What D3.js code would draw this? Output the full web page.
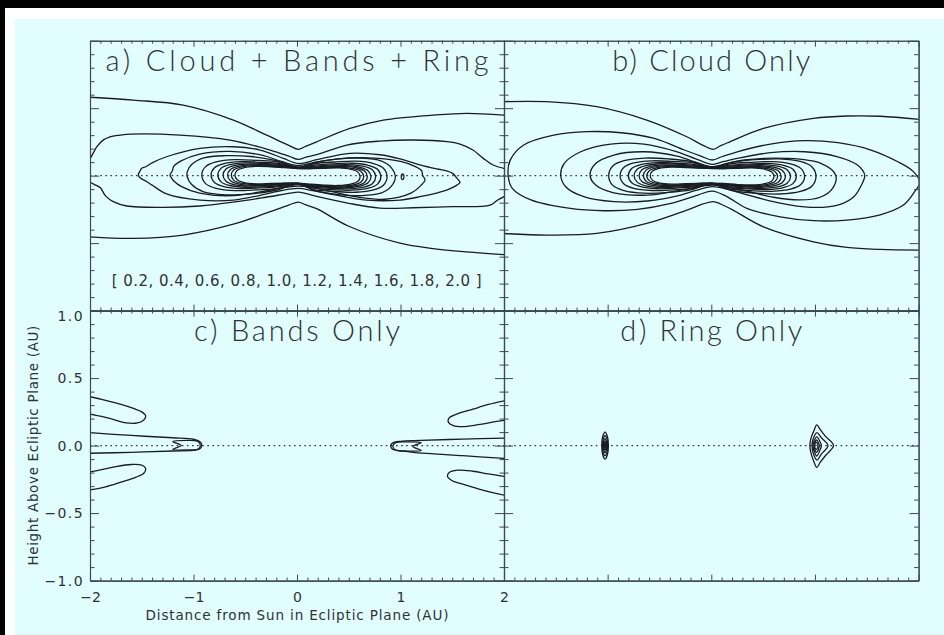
<!DOCTYPE html>
<html>
<head>
<meta charset="utf-8">
<script src="https://cdn.jsdelivr.net/npm/d3@7"></script>
<style>
  body { margin: 0; background: #fff; }
  svg { display: block; }
</style>
</head>
<body>
<svg id="chart" width="944" height="635"></svg>
<script>
// ---------------------------------------------------------------
// Zodiacal dust density contours in the x–z meridional plane.
// Every contour is a list of [distance (AU), height (AU)] points.
// ---------------------------------------------------------------

const contourLevels = [0.2, 0.4, 0.6, 0.8, 1.0, 1.2, 1.4, 1.6, 1.8, 2.0];

const xTickValues = [-2, -1, 0, 1, 2];
const xTickLabels = ["\u22122", "\u22121", "0", "1", "2"];
const yTickValues = [-1, -0.5, 0, 0.5, 1];
const yTickLabels = ["\u22121.0", "\u22120.5", "0.0", "0.5", "1.0"];

const panelTitles = ["a) Cloud + Bands + Ring", "b) Cloud Only", "c) Bands Only", "d) Ring Only"];

// ---- a) cloud + bands + ring : open contours (leave the frame)
const allOuterTop = [[-2.02,0.582],[-1.58,0.56],[-1.10,0.523],[-0.615,0.412],[-0.293,0.30],[-0.08,0.225],[0.013,0.195],[0.08,0.216],[0.19,0.251],[0.512,0.35],[0.834,0.412],[1.317,0.449],[1.64,0.462],[2.02,0.448]];
const allOuterBottom = [[-2.02,-0.453],[-1.58,-0.465],[-1.10,-0.44],[-0.615,-0.36],[-0.293,-0.276],[-0.08,-0.218],[0.013,-0.196],[0.08,-0.215],[0.19,-0.245],[0.5,-0.375],[0.995,-0.5],[1.317,-0.54],[1.64,-0.565],[2.02,-0.587]];
const allSecondTop = [[-2.02,0.095],[-1.96,0.18],[-1.935,0.214],[-1.87,0.265],[-1.807,0.288],[-1.71,0.30],[-1.61,0.308],[-1.13,0.301],[-0.647,0.264],[-0.26,0.19],[-0.08,0.145],[0.013,0.12],[0.08,0.135],[0.19,0.155],[0.48,0.227],[0.80,0.256],[1.12,0.264],[1.45,0.252],[1.575,0.234],[1.70,0.19],[1.797,0.13],[1.894,0.079],[2.02,0.05]];
const allSecondBottom = [[-2.02,-0.04],[-1.96,-0.065],[-1.90,-0.09],[-1.85,-0.15],[-1.775,-0.193],[-1.645,-0.225],[-1.3,-0.235],[-0.94,-0.225],[-0.6,-0.195],[-0.3,-0.16],[-0.08,-0.132],[0.013,-0.122],[0.08,-0.132],[0.2,-0.155],[0.5,-0.205],[0.8,-0.24],[1.12,-0.238],[1.5,-0.23],[1.865,-0.218],[1.94,-0.18],[2.02,-0.15]];

// ---- a) closed contours
const all3 = [[-1.533,0.004],[-1.52,0.03],[-1.50,0.055],[-1.46,0.066],[-1.40,0.095],[-1.26,0.14],[-0.937,0.202],[-0.615,0.214],[-0.357,0.19],[-0.132,0.128],[0.013,0.09],[0.19,0.118],[0.512,0.165],[0.80,0.155],[0.995,0.125],[1.188,0.08],[1.35,0.05],[1.446,0.035],[1.507,0.015],[1.546,-0.02],[1.575,-0.05],[1.545,-0.07],[1.446,-0.107],[1.188,-0.156],[0.995,-0.181],[0.673,-0.181],[0.351,-0.14],[0.15,-0.11],[0.013,-0.095],[-0.15,-0.11],[-0.293,-0.135],[-0.615,-0.181],[-0.937,-0.181],[-1.26,-0.135],[-1.40,-0.07],[-1.45,-0.045],[-1.51,-0.02]];
const all4 = [[-1.227,0.004],[-1.205,0.035],[-1.19,0.07],[-1.12,0.11],[-0.94,0.16],[-0.65,0.18],[-0.33,0.15],[-0.15,0.105],[0.013,0.074],[0.15,0.095],[0.4,0.125],[0.75,0.13],[1.0,0.105],[1.15,0.065],[1.205,0.035],[1.215,0.0],[1.237,-0.03],[1.2,-0.07],[1.1,-0.13],[0.85,-0.175],[0.6,-0.16],[0.317,-0.115],[0.15,-0.088],[0.013,-0.077],[-0.15,-0.09],[-0.295,-0.112],[-0.617,-0.148],[-0.94,-0.13],[-1.12,-0.08],[-1.19,-0.04],[-1.21,-0.02]];
const all5 = [[-1.06,0.03],[-1.018,0.082],[-0.901,0.131],[-0.689,0.148],[-0.445,0.142],[-0.212,0.113],[0.013,0.064],[0.19,0.1],[0.4,0.125],[0.62,0.13],[0.81,0.11],[0.91,0.06],[0.95,-0.01],[0.91,-0.08],[0.81,-0.13],[0.62,-0.148],[0.4,-0.14],[0.19,-0.115],[0.013,-0.066],[-0.212,-0.11],[-0.445,-0.135],[-0.689,-0.142],[-0.901,-0.12],[-1.018,-0.065],[-1.06,-0.01]];
const all6 = [[-0.92,0.004],[-0.883,0.067],[-0.782,0.102],[-0.598,0.119],[-0.386,0.113],[-0.184,0.102],[0,0.059],[0.174,0.09],[0.365,0.101],[0.566,0.107],[0.74,0.09],[0.835,0.055],[0.87,-0.008],[0.835,-0.071],[0.74,-0.106],[0.566,-0.123],[0.365,-0.117],[0.174,-0.106],[0,-0.061],[-0.184,-0.094],[-0.386,-0.105],[-0.598,-0.111],[-0.782,-0.094],[-0.883,-0.059]];
const all7 = [[-0.83,0.004],[-0.797,0.059],[-0.706,0.089],[-0.54,0.104],[-0.349,0.099],[-0.166,0.089],[0,0.058],[0.162,0.077],[0.34,0.087],[0.527,0.092],[0.689,0.077],[0.778,0.047],[0.81,-0.008],[0.778,-0.063],[0.689,-0.093],[0.527,-0.108],[0.34,-0.103],[0.162,-0.093],[0,-0.06],[-0.166,-0.081],[-0.349,-0.091],[-0.54,-0.096],[-0.706,-0.081],[-0.797,-0.051]];
const all8 = [[-0.765,0.004],[-0.734,0.054],[-0.65,0.081],[-0.497,0.094],[-0.321,0.09],[-0.153,0.081],[0,0.057],[0.152,0.069],[0.319,0.078],[0.494,0.082],[0.646,0.069],[0.73,0.042],[0.76,-0.008],[0.73,-0.058],[0.646,-0.085],[0.494,-0.098],[0.319,-0.094],[0.152,-0.085],[0,-0.059],[-0.153,-0.073],[-0.321,-0.082],[-0.497,-0.086],[-0.65,-0.073],[-0.734,-0.046]];
const all9 = [[-0.715,0.004],[-0.686,0.049],[-0.608,0.074],[-0.465,0.086],[-0.3,0.082],[-0.143,0.074],[0,0.056],[0.143,0.062],[0.3,0.07],[0.465,0.074],[0.608,0.062],[0.686,0.037],[0.715,-0.008],[0.686,-0.053],[0.608,-0.078],[0.465,-0.09],[0.3,-0.086],[0.143,-0.078],[0,-0.058],[-0.143,-0.066],[-0.3,-0.074],[-0.465,-0.078],[-0.608,-0.066],[-0.686,-0.041]];
const all10 = [[-0.67,0.004],[-0.643,0.046],[-0.57,0.069],[-0.436,0.08],[-0.281,0.076],[-0.134,0.069],[0,0.055],[0.136,0.057],[0.286,0.064],[0.442,0.068],[0.578,0.057],[0.653,0.034],[0.68,-0.008],[0.653,-0.05],[0.578,-0.073],[0.442,-0.084],[0.286,-0.08],[0.136,-0.073],[0,-0.057],[-0.134,-0.061],[-0.281,-0.068],[-0.436,-0.072],[-0.57,-0.061],[-0.643,-0.038]];
const all11 = [[-0.635,0.004],[-0.61,0.043],[-0.54,0.064],[-0.413,0.074],[-0.267,0.071],[-0.127,0.064],[0,0.054],[0.129,0.053],[0.271,0.059],[0.419,0.062],[0.548,0.052],[0.619,0.031],[0.645,-0.008],[0.619,-0.047],[0.548,-0.068],[0.419,-0.078],[0.271,-0.075],[0.129,-0.068],[0,-0.056],[-0.127,-0.057],[-0.267,-0.063],[-0.413,-0.066],[-0.54,-0.056],[-0.61,-0.035]];
const all12 = [[-0.60,0.004],[-0.576,0.04],[-0.51,0.059],[-0.39,0.069],[-0.252,0.066],[-0.12,0.059],[0,0.053],[0.122,0.053],[0.256,0.054],[0.397,0.057],[0.519,0.047],[0.586,0.028],[0.61,-0.008],[0.586,-0.044],[0.519,-0.063],[0.397,-0.073],[0.256,-0.07],[0.122,-0.063],[0,-0.055],[-0.12,-0.056],[-0.252,-0.058],[-0.39,-0.061],[-0.51,-0.051],[-0.576,-0.032]];
const allRingBlob = [[1.007,-0.008],[1.011,0.008],[1.02,0.013],[1.029,0.008],[1.033,-0.008],[1.029,-0.024],[1.02,-0.029],[1.011,-0.024]];

// ---- b) cloud only
const cloudOuterTop = [[-2.02,0.548],[-1.59,0.548],[-1.105,0.511],[-0.623,0.412],[-0.236,0.288],[-0.08,0.225],[0.02,0.195],[0.09,0.222],[0.18,0.251],[0.503,0.35],[0.986,0.425],[1.308,0.442],[1.63,0.44],[2.02,0.416]];
const cloudOuterBottom = [[-2.02,-0.428],[-1.59,-0.44],[-1.105,-0.428],[-0.623,-0.354],[-0.236,-0.255],[-0.08,-0.21],[0.02,-0.192],[0.09,-0.21],[0.21,-0.255],[0.503,-0.379],[0.986,-0.49],[1.308,-0.532],[1.63,-0.547],[2.02,-0.552]];
const cloud2 = [[-1.96,0.0],[-1.94,0.115],[-1.81,0.227],[-1.52,0.30],[-1.20,0.326],[-0.87,0.318],[-0.55,0.276],[-0.26,0.19],[-0.1,0.145],[0.01,0.116],[0.1,0.14],[0.25,0.177],[0.57,0.234],[0.90,0.259],[1.22,0.244],[1.54,0.19],[1.80,0.103],[1.95,0.03],[2.01,-0.05],[1.96,-0.12],[1.85,-0.22],[1.63,-0.29],[1.31,-0.329],[0.986,-0.334],[0.664,-0.305],[0.343,-0.243],[0.15,-0.155],[0.01,-0.114],[-0.13,-0.144],[-0.39,-0.206],[-0.71,-0.25],[-1.035,-0.26],[-1.36,-0.243],[-1.74,-0.18],[-1.92,-0.094]];
const cloud3 = [[-1.453,0.005],[-1.42,0.09],[-1.26,0.177],[-0.97,0.234],[-0.65,0.234],[-0.33,0.177],[-0.15,0.125],[0.01,0.084],[0.12,0.105],[0.25,0.128],[0.57,0.17],[0.90,0.177],[1.22,0.14],[1.41,0.079],[1.48,0.004],[1.44,-0.082],[1.37,-0.16],[1.22,-0.218],[0.96,-0.235],[0.64,-0.2],[0.32,-0.137],[0.15,-0.1],[0.01,-0.082],[-0.15,-0.11],[-0.295,-0.144],[-0.617,-0.188],[-0.94,-0.193],[-1.23,-0.156],[-1.405,-0.082]];
const cloud4 = [[-1.17,0.004],[-1.115,0.09],[-0.94,0.153],[-0.65,0.177],[-0.33,0.145],[-0.15,0.1],[0.01,0.066],[0.15,0.09],[0.317,0.116],[0.735,0.128],[1.057,0.091],[1.2,0.004],[1.17,-0.094],[1.05,-0.16],[0.85,-0.18],[0.6,-0.16],[0.317,-0.11],[0.15,-0.085],[0.01,-0.07],[-0.15,-0.085],[-0.295,-0.107],[-0.617,-0.144],[-0.94,-0.127],[-1.115,-0.07]];
const cloud5 = [[-0.99,0],[-0.95,0.072],[-0.842,0.111],[-0.644,0.13],[-0.416,0.124],[-0.198,0.105],[0,0.06],[0.202,0.1],[0.424,0.118],[0.657,0.124],[0.859,0.105],[0.97,0.066],[1.01,-0.006],[0.97,-0.078],[0.859,-0.117],[0.657,-0.136],[0.424,-0.13],[0.202,-0.11],[0,-0.062],[-0.198,-0.105],[-0.416,-0.124],[-0.644,-0.13],[-0.842,-0.111],[-0.95,-0.072]];
const cloud6 = [[-0.88,0],[-0.845,0.06],[-0.748,0.094],[-0.572,0.11],[-0.37,0.105],[-0.176,0.094],[0,0.058],[0.18,0.088],[0.378,0.099],[0.585,0.104],[0.765,0.088],[0.864,0.054],[0.9,-0.006],[0.864,-0.066],[0.765,-0.1],[0.585,-0.116],[0.378,-0.111],[0.18,-0.1],[0,-0.06],[-0.176,-0.094],[-0.37,-0.105],[-0.572,-0.11],[-0.748,-0.094],[-0.845,-0.06]];
const cloud7 = [[-0.80,0],[-0.768,0.053],[-0.68,0.082],[-0.52,0.097],[-0.336,0.092],[-0.16,0.082],[0,0.057],[0.164,0.076],[0.344,0.086],[0.533,0.091],[0.697,0.076],[0.787,0.047],[0.82,-0.006],[0.787,-0.059],[0.697,-0.088],[0.533,-0.103],[0.344,-0.098],[0.164,-0.088],[0,-0.059],[-0.16,-0.082],[-0.336,-0.092],[-0.52,-0.097],[-0.68,-0.082],[-0.768,-0.053]];
const cloud8 = [[-0.745,0],[-0.715,0.048],[-0.633,0.075],[-0.484,0.088],[-0.313,0.084],[-0.149,0.075],[0,0.056],[0.153,0.069],[0.321,0.078],[0.497,0.082],[0.65,0.069],[0.734,0.042],[0.765,-0.006],[0.734,-0.054],[0.65,-0.081],[0.497,-0.094],[0.321,-0.09],[0.153,-0.081],[0,-0.058],[-0.149,-0.075],[-0.313,-0.084],[-0.484,-0.088],[-0.633,-0.075],[-0.715,-0.048]];
const cloud9 = [[-0.697,0],[-0.669,0.044],[-0.592,0.068],[-0.453,0.08],[-0.293,0.076],[-0.139,0.068],[0,0.055],[0.143,0.062],[0.3,0.07],[0.465,0.074],[0.608,0.062],[0.686,0.038],[0.715,-0.006],[0.686,-0.05],[0.608,-0.074],[0.465,-0.086],[0.3,-0.082],[0.143,-0.074],[0,-0.057],[-0.139,-0.068],[-0.293,-0.076],[-0.453,-0.08],[-0.592,-0.068],[-0.669,-0.044]];
const cloud10 = [[-0.655,0],[-0.629,0.041],[-0.557,0.063],[-0.426,0.074],[-0.275,0.07],[-0.131,0.063],[0,0.055],[0.135,0.057],[0.284,0.064],[0.439,0.068],[0.574,0.057],[0.648,0.035],[0.675,-0.006],[0.648,-0.047],[0.574,-0.069],[0.439,-0.08],[0.284,-0.076],[0.135,-0.069],[0,-0.057],[-0.131,-0.063],[-0.275,-0.07],[-0.426,-0.074],[-0.557,-0.063],[-0.629,-0.041]];
const cloud11 = [[-0.623,0],[-0.598,0.037],[-0.53,0.058],[-0.405,0.068],[-0.262,0.065],[-0.125,0.058],[0,0.054],[0.128,0.053],[0.269,0.059],[0.416,0.062],[0.544,0.052],[0.614,0.031],[0.64,-0.006],[0.614,-0.043],[0.544,-0.064],[0.416,-0.074],[0.269,-0.071],[0.128,-0.064],[0,-0.056],[-0.125,-0.058],[-0.262,-0.065],[-0.405,-0.068],[-0.53,-0.058],[-0.598,-0.037]];
const cloud12 = [[-0.59,0],[-0.566,0.035],[-0.502,0.054],[-0.384,0.063],[-0.248,0.06],[-0.118,0.056],[0,0.053],[0.121,0.053],[0.254,0.054],[0.393,0.057],[0.514,0.048],[0.581,0.029],[0.605,-0.006],[0.581,-0.041],[0.514,-0.06],[0.393,-0.069],[0.254,-0.066],[0.121,-0.058],[0,-0.055],[-0.118,-0.057],[-0.248,-0.06],[-0.384,-0.063],[-0.502,-0.054],[-0.566,-0.035]];

// ---- c) dust bands only
const bandsUpperLeft = [[-2.02,0.365],[-1.85,0.335],[-1.7,0.305],[-1.58,0.275],[-1.5,0.25],[-1.462,0.22],[-1.48,0.19],[-1.54,0.168],[-1.65,0.168],[-1.8,0.2],[-1.9,0.218],[-2.02,0.236]];
const bandsLowerLeft = [[-2.02,-0.198],[-1.9,-0.18],[-1.75,-0.155],[-1.6,-0.14],[-1.5,-0.145],[-1.462,-0.17],[-1.48,-0.205],[-1.56,-0.235],[-1.7,-0.27],[-1.85,-0.305],[-2.02,-0.33]];
const bandsMidLeft = [[-2.02,0.097],[-1.6,0.075],[-1.2,0.058],[-1.0,0.047],[-0.94,0.03],[-0.92,0.005],[-0.935,-0.022],[-0.98,-0.034],[-1.2,-0.04],[-1.6,-0.05],[-2.02,-0.057]];
const bandsMidRight = [[2.02,0.055],[1.6,0.048],[1.2,0.038],[1.0,0.032],[0.93,0.022],[0.905,0.0],[0.92,-0.025],[0.97,-0.036],[1.12,-0.05],[1.6,-0.075],[2.02,-0.095]];
const bandsUpperRight = [[2.02,0.335],[1.85,0.305],[1.7,0.27],[1.55,0.235],[1.47,0.205],[1.462,0.175],[1.51,0.148],[1.6,0.14],[1.75,0.155],[1.9,0.175],[2.02,0.19]];
const bandsLowerRight = [[2.02,-0.23],[1.85,-0.21],[1.7,-0.19],[1.55,-0.182],[1.47,-0.2],[1.455,-0.23],[1.5,-0.26],[1.6,-0.285],[1.75,-0.32],[1.9,-0.35],[2.02,-0.37]];
const bandsCoreLeft = [[-1.2,0.03],[-1.05,0.038],[-0.965,0.033],[-0.94,0.015],[-0.936,-0.01],[-0.96,-0.027],[-1.05,-0.032],[-1.2,-0.028],[-1.12,0.0]];
const bandsCoreRight = [[1.2,0.022],[1.05,0.028],[0.96,0.024],[0.93,0.005],[0.932,-0.02],[0.96,-0.035],[1.05,-0.04],[1.2,-0.036],[1.12,-0.006]];

// ---- d) resonant ring only
const ringLead1 = [[-1.025,0.10],[-1.003,0.07],[-0.993,0.0],[-1.003,-0.07],[-1.025,-0.10],[-1.047,-0.07],[-1.057,0.0],[-1.047,0.07]];
const ringLead2 = [[-1.025,0.075],[-1.008,0.053],[-1.001,0.0],[-1.008,-0.053],[-1.025,-0.075],[-1.042,-0.053],[-1.049,0.0],[-1.042,0.053]];
const ringLead3 = [[-1.025,0.052],[-1.013,0.036],[-1.008,0.0],[-1.013,-0.036],[-1.025,-0.052],[-1.037,-0.036],[-1.042,0.0],[-1.037,0.036]];
const ringLead4 = [[-1.025,0.033],[-1.017,0.023],[-1.014,0.0],[-1.017,-0.023],[-1.025,-0.033],[-1.033,-0.023],[-1.036,0.0],[-1.033,0.023]];
const ringLead5 = [[-1.025,0.018],[-1.02,0.012],[-1.019,0.0],[-1.02,-0.012],[-1.025,-0.018],[-1.03,-0.012],[-1.031,0.0],[-1.03,0.012]];
const ringTrail1 = [[1.018,0.153],[1.05,0.12],[1.1,0.07],[1.179,0.0],[1.1,-0.075],[1.05,-0.125],[1.018,-0.161],[0.99,-0.12],[0.96,-0.05],[0.951,0.0],[0.96,0.05],[0.99,0.11]];
const ringTrail2 = [[1.02,0.096],[1.06,0.06],[1.126,0.0],[1.06,-0.065],[1.02,-0.107],[0.985,-0.06],[0.972,0.0],[0.985,0.055]];
const ringTrail3 = [[1.018,0.064],[1.045,0.035],[1.062,0.0],[1.045,-0.04],[1.018,-0.077],[0.992,-0.04],[0.98,0.0],[0.992,0.035]];
const ringTrail4 = [[1.015,0.042],[1.035,0.02],[1.042,0.0],[1.035,-0.025],[1.015,-0.05],[0.996,-0.025],[0.99,0.0],[0.996,0.02]];
const ringTrail5 = [[1.013,0.025],[1.026,0.01],[1.03,-0.003],[1.026,-0.015],[1.013,-0.03],[1.0,-0.015],[0.997,-0.003],[1.0,0.012]];

// ---------------------------------------------------------------
const W = 944, H = 635;
const BG = "#e1fdfe", INK = "#1a1c24", AXIS = "#3d4852", TEXT = "#2e3236";
const FONT = "Lato, 'DejaVu Sans', sans-serif";

const svg = d3.select("#chart");

// page surround
svg.append("rect").attr("width", W).attr("height", H).attr("fill", "#fff");
svg.append("rect").attr("x", 0).attr("y", 0).attr("width", W).attr("height", 8).attr("fill", "#000");
svg.append("rect").attr("x", 0).attr("y", 0).attr("width", 5).attr("height", H).attr("fill", "#000");
svg.append("rect").attr("x", 15).attr("y", 19).attr("width", W - 15).attr("height", H - 19).attr("fill", BG);

const colL = [90, 504], colR = [504, 918.6];
const rowT = [310.6, 40.7], rowB = [580.6, 310.6];

const panels = [
  { id: "a", xr: colL, yr: rowT, title: panelTitles[0], tw: 383,
    open: [allOuterTop, allOuterBottom, allSecondTop, allSecondBottom],
    closed: [all3, all4, all5, all6, all7, all8, all9, all10, all11, all12, allRingBlob] },
  { id: "b", xr: colR, yr: rowT, title: panelTitles[1], tw: 198,
    open: [cloudOuterTop, cloudOuterBottom],
    closed: [cloud2, cloud3, cloud4, cloud5, cloud6, cloud7, cloud8, cloud9, cloud10, cloud11, cloud12] },
  { id: "c", xr: colL, yr: rowB, title: panelTitles[2], tw: 206, labelled: true,
    open: [bandsUpperLeft, bandsLowerLeft, bandsMidLeft, bandsMidRight, bandsUpperRight, bandsLowerRight],
    closed: [bandsCoreLeft, bandsCoreRight] },
  { id: "d", xr: colR, yr: rowB, title: panelTitles[3], tw: 182,
    open: [],
    closed: [ringLead1, ringLead2, ringLead3, ringLead4, ringLead5,
             ringTrail1, ringTrail2, ringTrail3, ringTrail4, ringTrail5] }
];

const xMinor = d3.range(-20, 21).map(i => i / 10).filter(v => !xTickValues.includes(v));
const yMinor = d3.range(-10, 11).map(i => i / 10).filter(v => !yTickValues.includes(v));

panels.forEach(p => {
  const xs = d3.scaleLinear().domain([-2, 2]).range(p.xr);
  const ys = d3.scaleLinear().domain([-1, 1]).range(p.yr);
  const g = svg.append("g").attr("class", "panel-" + p.id);

  const clipId = "clip-" + p.id;
  svg.append("defs").append("clipPath").attr("id", clipId)
    .append("rect").attr("x", p.xr[0]).attr("y", p.yr[1])
    .attr("width", p.xr[1] - p.xr[0]).attr("height", p.yr[0] - p.yr[1]);

  const plot = g.append("g").attr("clip-path", `url(#${clipId})`);

  // ecliptic plane
  plot.append("line")
    .attr("x1", xs(-2)).attr("x2", xs(2)).attr("y1", ys(0)).attr("y2", ys(0))
    .attr("stroke", "#30363c").attr("stroke-width", 1.4)
    .attr("stroke-dasharray", "1.6,3.5");

  const openLine = d3.line().x(d => xs(d[0])).y(d => ys(d[1]))
    .curve(d3.curveCatmullRom.alpha(0.5));
  const closedLine = d3.line().x(d => xs(d[0])).y(d => ys(d[1]))
    .curve(d3.curveCatmullRomClosed.alpha(0.5));

  plot.selectAll("path.open").data(p.open).join("path")
    .attr("class", "open").attr("d", openLine)
    .attr("fill", "none").attr("stroke", INK).attr("stroke-width", 1.3);
  plot.selectAll("path.closed").data(p.closed).join("path")
    .attr("class", "closed").attr("d", closedLine)
    .attr("fill", "none").attr("stroke", INK).attr("stroke-width", 1.3);

  // frame with inward ticks on all four sides
  const [x0, x1] = p.xr, [yb, yt] = p.yr;
  const ax = g.append("g").attr("class", "axes");
  const styleAxis = sel => {
    sel.selectAll("path.domain").attr("stroke", AXIS).attr("stroke-width", 1.1);
    sel.selectAll(".tick line").attr("stroke", AXIS).attr("stroke-width", 1);
  };

  ax.append("g").attr("transform", `translate(0,${yb})`)
    .call(d3.axisBottom(xs).tickValues(xMinor).tickSize(-3).tickSizeOuter(0).tickFormat(""))
    .call(styleAxis);
  const xb = ax.append("g").attr("transform", `translate(0,${yb})`)
    .call(d3.axisBottom(xs).tickValues(xTickValues).tickSize(-6).tickSizeOuter(0)
      .tickPadding(11)
      .tickFormat(p.labelled ? (d, i) => xTickLabels[i] : ""))
    .call(styleAxis);
  ax.append("g").attr("transform", `translate(0,${yt})`)
    .call(d3.axisTop(xs).tickValues(xMinor).tickSize(-3).tickSizeOuter(0).tickFormat(""))
    .call(styleAxis);
  ax.append("g").attr("transform", `translate(0,${yt})`)
    .call(d3.axisTop(xs).tickValues(xTickValues).tickSize(-6).tickSizeOuter(0).tickFormat(""))
    .call(styleAxis);
  ax.append("g").attr("transform", `translate(${x0},0)`)
    .call(d3.axisLeft(ys).tickValues(yMinor).tickSize(-4.5).tickSizeOuter(0).tickFormat(""))
    .call(styleAxis);
  const yl = ax.append("g").attr("transform", `translate(${x0},0)`)
    .call(d3.axisLeft(ys).tickValues(yTickValues).tickSize(-9).tickSizeOuter(0)
      .tickPadding(6)
      .tickFormat(p.labelled ? (d, i) => yTickLabels[i] : ""))
    .call(styleAxis);
  ax.append("g").attr("transform", `translate(${x1},0)`)
    .call(d3.axisRight(ys).tickValues(yMinor).tickSize(-4.5).tickSizeOuter(0).tickFormat(""))
    .call(styleAxis);
  ax.append("g").attr("transform", `translate(${x1},0)`)
    .call(d3.axisRight(ys).tickValues(yTickValues).tickSize(-9).tickSizeOuter(0).tickFormat(""))
    .call(styleAxis);

  [xb, yl].forEach(s => s.selectAll("text")
    .attr("font-family", "'DejaVu Sans', sans-serif").attr("font-size", 14)
    .attr("fill", TEXT));
  yl.selectAll("text").attr("letter-spacing", 1.4);
  yl.selectAll(".tick").filter(d => d === 1).select("text").attr("dy", "0.7em");

  // panel title
  g.append("text")
    .attr("x", (x0 + x1) / 2).attr("y", yt + 30.5)
    .attr("text-anchor", "middle")
    .attr("font-family", FONT).attr("font-weight", 300).attr("font-size", 29)
    .attr("fill", TEXT)
    .attr("textLength", p.tw).attr("lengthAdjust", "spacing")
    .text(p.title);

  if (p.id === "a") {
    g.append("text")
      .attr("x", 296.7).attr("y", 286)
      .attr("text-anchor", "middle")
      .attr("font-family", "'DejaVu Sans', sans-serif").attr("font-size", 15)
      .attr("fill", TEXT)
      .attr("textLength", 370).attr("lengthAdjust", "spacing")
      .text("[ " + contourLevels.map(v => v.toFixed(1)).join(", ") + " ]");
  }

  if (p.labelled) {
    g.append("text")
      .attr("x", (x0 + x1) / 2).attr("y", 620)
      .attr("text-anchor", "middle")
      .attr("font-family", "'DejaVu Sans', sans-serif").attr("font-size", 13.5)
      .attr("fill", TEXT)
      .attr("textLength", 303).attr("lengthAdjust", "spacing")
      .text("Distance from Sun in Ecliptic Plane (AU)");
    g.append("text")
      .attr("transform", `translate(38,${(yb + yt) / 2}) rotate(-90)`)
      .attr("text-anchor", "middle")
      .attr("font-family", "'DejaVu Sans', sans-serif").attr("font-size", 13.5)
      .attr("fill", TEXT)
      .attr("textLength", 240).attr("lengthAdjust", "spacing")
      .text("Height Above Ecliptic Plane (AU)");
  }
});
</script>
</body>
</html>
